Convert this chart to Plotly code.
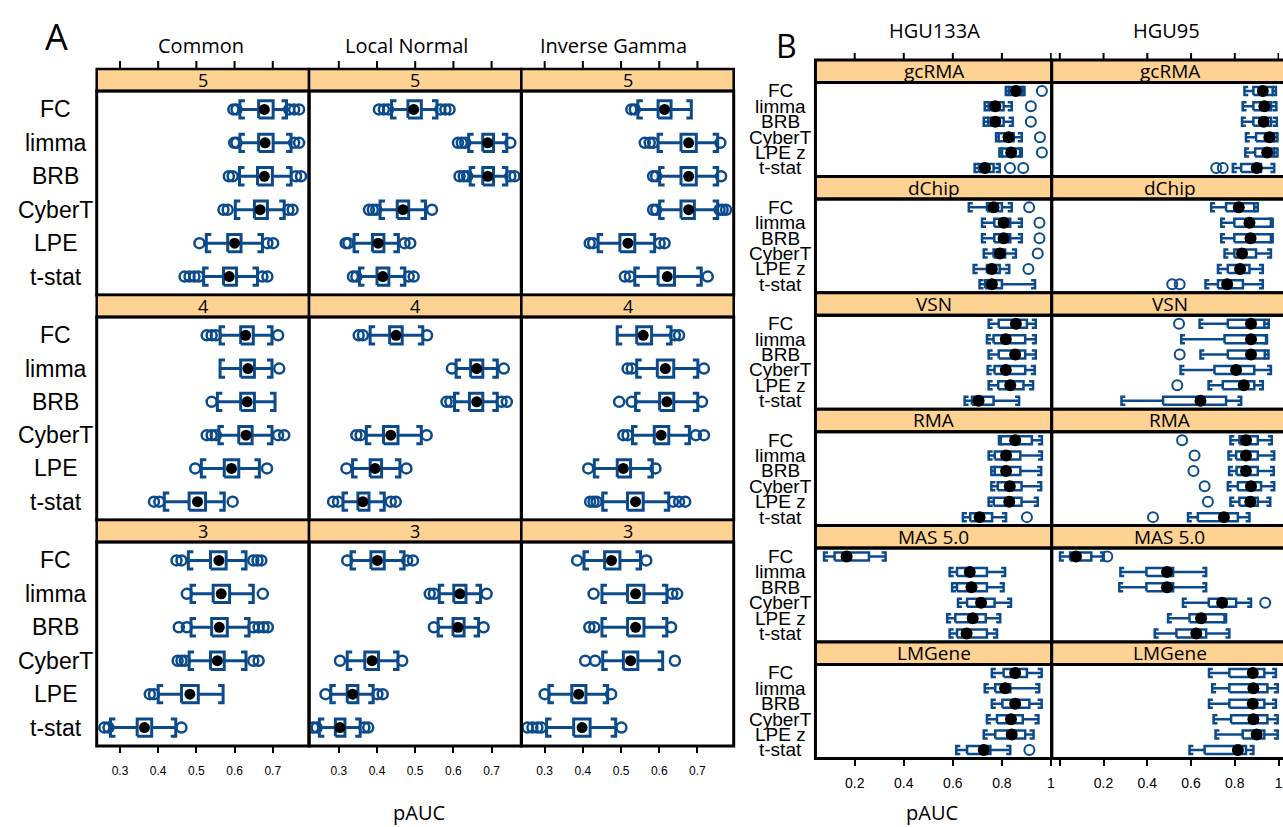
import plotly.graph_objects as go

W, H = 1283, 827
BLUE = "#0b4a8b"
STRIP = "#fdd292"
LABEL_FONT = "Liberation Sans"
HEAD_FONT = "Open Sans"

# ---------------- categories, panel names, tick labels ----------------
methods_a = ["FC", "limma", "BRB", "CyberT", "LPE", "t-stat"]
methods_b = ["FC", "limma", "BRB", "CyberT", "LPE z", "t-stat"]
priors = ["Common", "Local Normal", "Inverse Gamma"]
sample_sizes = ["5", "4", "3"]
platforms = ["HGU133A", "HGU95"]
preprocessing = ["gcRMA", "dChip", "VSN", "RMA", "MAS 5.0", "LMGene"]

ticks_a = [0.3, 0.4, 0.5, 0.6, 0.7]
tick_labels_a = ["0.3", "0.4", "0.5", "0.6", "0.7"]
ticks_b = [0.0, 0.2, 0.4, 0.6, 0.8, 1.0]
tick_labels_b1 = ["0", "0.2", "0.4", "0.6", "0.8", "1"]
tick_labels_b2 = ["", "0.2", "0.4", "0.6", "0.8", "1"]

# ---------------- box statistics ----------------
# each row: [lower whisker, Q1, median, Q3, upper whisker, [outliers]]

# A: simulation, prior model x replicates
common_5 = [
    [0.614, 0.663, 0.678, 0.701, 0.736, [0.597, 0.605, 0.743, 0.756, 0.769]],
    [0.614, 0.663, 0.680, 0.701, 0.748, [0.599, 0.605, 0.756, 0.769]],
    [0.613, 0.660, 0.678, 0.699, 0.748, [0.585, 0.595, 0.761, 0.774]],
    [0.602, 0.652, 0.667, 0.686, 0.730, [0.571, 0.582, 0.741, 0.752]],
    [0.526, 0.582, 0.600, 0.617, 0.673, [0.508, 0.686, 0.701]],
    [0.519, 0.571, 0.586, 0.605, 0.660, [0.469, 0.482, 0.495, 0.506, 0.673, 0.686]],
]
lnormal_5 = [
    [0.438, 0.481, 0.496, 0.516, 0.557, [0.405, 0.418, 0.429, 0.566, 0.579, 0.590]],
    [0.640, 0.677, 0.690, 0.705, 0.740, [0.612, 0.622, 0.631, 0.749]],
    [0.644, 0.677, 0.690, 0.705, 0.740, [0.616, 0.627, 0.636, 0.749, 0.760]],
    [0.408, 0.453, 0.468, 0.483, 0.527, [0.379, 0.389, 0.398, 0.544]],
    [0.340, 0.388, 0.403, 0.418, 0.456, [0.318, 0.325, 0.472, 0.487]],
    [0.354, 0.400, 0.415, 0.431, 0.473, [0.337, 0.346, 0.483, 0.496]],
]
igamma_5 = [
    [0.544, 0.597, 0.614, 0.631, 0.684, [0.527, 0.536]],
    [0.597, 0.657, 0.677, 0.697, 0.753, [0.562, 0.575, 0.584, 0.760]],
    [0.601, 0.657, 0.677, 0.697, 0.753, [0.584, 0.592, 0.762]],
    [0.601, 0.657, 0.677, 0.692, 0.753, [0.584, 0.592, 0.758, 0.766, 0.775]],
    [0.440, 0.497, 0.518, 0.536, 0.588, [0.418, 0.427, 0.601, 0.614]],
    [0.536, 0.597, 0.621, 0.640, 0.710, [0.510, 0.523, 0.727]],
]
common_4 = [
    [0.562, 0.616, 0.629, 0.649, 0.698, [0.527, 0.540, 0.551, 0.714]],
    [0.562, 0.616, 0.635, 0.652, 0.698, [0.717]],
    [0.555, 0.616, 0.633, 0.652, 0.706, [0.540]],
    [0.559, 0.611, 0.630, 0.646, 0.698, [0.527, 0.540, 0.551, 0.714, 0.730]],
    [0.513, 0.573, 0.592, 0.611, 0.665, [0.497, 0.685]],
    [0.416, 0.481, 0.503, 0.524, 0.573, [0.389, 0.403, 0.595]],
]
lnormal_4 = [
    [0.382, 0.433, 0.450, 0.466, 0.520, [0.352, 0.363, 0.531]],
    [0.607, 0.645, 0.661, 0.677, 0.715, [0.596, 0.732]],
    [0.603, 0.642, 0.661, 0.677, 0.715, [0.582, 0.592, 0.726, 0.740]],
    [0.372, 0.417, 0.436, 0.455, 0.516, [0.346, 0.357, 0.530]],
    [0.336, 0.382, 0.395, 0.412, 0.460, [0.320, 0.477]],
    [0.311, 0.350, 0.363, 0.379, 0.419, [0.285, 0.298, 0.436, 0.449]],
]
igamma_4 = [
    [0.490, 0.541, 0.558, 0.580, 0.631, [0.641, 0.652]],
    [0.541, 0.595, 0.616, 0.638, 0.701, [0.517, 0.528, 0.717]],
    [0.538, 0.601, 0.620, 0.638, 0.701, [0.495, 0.528, 0.712]],
    [0.530, 0.587, 0.605, 0.625, 0.679, [0.506, 0.517, 0.696, 0.717]],
    [0.430, 0.490, 0.506, 0.525, 0.582, [0.414, 0.590]],
    [0.452, 0.517, 0.538, 0.558, 0.625, [0.419, 0.428, 0.436, 0.636, 0.652, 0.668]],
]
common_3 = [
    [0.479, 0.537, 0.559, 0.578, 0.630, [0.448, 0.461, 0.649, 0.660, 0.670]],
    [0.486, 0.544, 0.565, 0.587, 0.649, [0.475, 0.674]],
    [0.486, 0.540, 0.560, 0.581, 0.638, [0.454, 0.475, 0.649, 0.663, 0.676, 0.687]],
    [0.481, 0.537, 0.555, 0.573, 0.630, [0.451, 0.461, 0.470, 0.649, 0.663]],
    [0.400, 0.461, 0.483, 0.505, 0.570, [0.378, 0.389]],
    [0.275, 0.345, 0.364, 0.383, 0.446, [0.259, 0.270, 0.461]],
]
lnormal_3 = [
    [0.332, 0.384, 0.401, 0.419, 0.471, [0.322, 0.479, 0.494]],
    [0.563, 0.601, 0.617, 0.633, 0.671, [0.538, 0.549, 0.687]],
    [0.560, 0.599, 0.612, 0.628, 0.666, [0.549, 0.679]],
    [0.322, 0.368, 0.387, 0.404, 0.455, [0.303, 0.466]],
    [0.279, 0.322, 0.336, 0.350, 0.390, [0.265, 0.401, 0.415]],
    [0.249, 0.291, 0.303, 0.316, 0.356, [0.233, 0.242, 0.367, 0.377]],
]
igamma_3 = [
    [0.403, 0.457, 0.475, 0.497, 0.551, [0.385, 0.566]],
    [0.450, 0.517, 0.538, 0.560, 0.620, [0.428, 0.634, 0.647]],
    [0.450, 0.517, 0.538, 0.560, 0.620, [0.417, 0.430, 0.631]],
    [0.452, 0.506, 0.525, 0.544, 0.609, [0.406, 0.432, 0.641]],
    [0.311, 0.371, 0.389, 0.408, 0.465, [0.300, 0.474]],
    [0.305, 0.376, 0.398, 0.419, 0.486, [0.255, 0.268, 0.281, 0.291, 0.501]],
]

# B: spike-in data, preprocessing x platform
hgu133a_gcrma = [
    [0.816, 0.828, 0.857, 0.884, 0.892, [0.963]],
    [0.730, 0.746, 0.773, 0.807, 0.840, [0.918]],
    [0.726, 0.744, 0.773, 0.807, 0.844, [0.918]],
    [0.776, 0.787, 0.827, 0.848, 0.881, [0.955]],
    [0.790, 0.800, 0.838, 0.874, 0.881, [0.963]],
    [0.689, 0.707, 0.731, 0.766, 0.791, [0.833, 0.887]],
]
hgu95_gcrma = [
    [0.844, 0.885, 0.928, 0.973, 0.988, []],
    [0.836, 0.885, 0.935, 0.966, 0.990, []],
    [0.833, 0.885, 0.932, 0.966, 0.992, []],
    [0.851, 0.897, 0.958, 0.980, 0.995, []],
    [0.848, 0.893, 0.948, 0.980, 0.995, []],
    [0.791, 0.829, 0.900, 0.920, 0.980, [0.715, 0.745]],
]
hgu133a_dchip = [
    [0.665, 0.739, 0.766, 0.800, 0.840, [0.911]],
    [0.719, 0.769, 0.807, 0.834, 0.881, [0.953]],
    [0.719, 0.769, 0.807, 0.834, 0.881, [0.953]],
    [0.726, 0.766, 0.792, 0.813, 0.857, [0.946]],
    [0.685, 0.739, 0.759, 0.791, 0.830, [0.908]],
    [0.709, 0.732, 0.759, 0.800, 0.935, []],
]
hgu95_dchip = [
    [0.692, 0.760, 0.818, 0.889, 0.905, []],
    [0.738, 0.798, 0.867, 0.965, 0.973, []],
    [0.738, 0.798, 0.872, 0.965, 0.973, []],
    [0.753, 0.798, 0.833, 0.897, 0.965, []],
    [0.723, 0.768, 0.824, 0.867, 0.928, []],
    [0.666, 0.723, 0.765, 0.837, 0.928, [0.514, 0.548]],
]
hgu133a_vsn = [
    [0.746, 0.787, 0.857, 0.902, 0.938, []],
    [0.739, 0.766, 0.816, 0.895, 0.938, []],
    [0.746, 0.787, 0.854, 0.895, 0.938, []],
    [0.742, 0.770, 0.816, 0.895, 0.934, []],
    [0.746, 0.785, 0.834, 0.888, 0.927, []],
    [0.648, 0.678, 0.705, 0.766, 0.870, []],
]
hgu95_vsn = [
    [0.639, 0.768, 0.874, 0.935, 0.955, [0.545]],
    [0.555, 0.753, 0.874, 0.943, 0.947, []],
    [0.643, 0.768, 0.874, 0.937, 0.954, [0.548]],
    [0.552, 0.707, 0.806, 0.889, 0.965, []],
    [0.680, 0.745, 0.841, 0.889, 0.928, [0.537]],
    [0.282, 0.472, 0.643, 0.760, 0.829, []],
]
hgu133a_rma = [
    [0.788, 0.795, 0.854, 0.922, 0.963, []],
    [0.746, 0.771, 0.817, 0.875, 0.963, []],
    [0.757, 0.771, 0.817, 0.875, 0.960, []],
    [0.757, 0.783, 0.832, 0.880, 0.960, []],
    [0.746, 0.767, 0.830, 0.880, 0.946, []],
    [0.641, 0.671, 0.709, 0.760, 0.817, [0.902]],
]
hgu95_rma = [
    [0.780, 0.821, 0.851, 0.905, 0.969, [0.559]],
    [0.771, 0.806, 0.851, 0.905, 0.980, [0.616]],
    [0.774, 0.808, 0.851, 0.905, 0.978, [0.611]],
    [0.768, 0.814, 0.874, 0.920, 0.980, [0.662]],
    [0.780, 0.821, 0.871, 0.905, 0.962, [0.677]],
    [0.586, 0.631, 0.750, 0.814, 0.867, [0.426]],
]
hgu133a_mas5 = [
    [0.075, 0.118, 0.167, 0.258, 0.326, []],
    [0.587, 0.617, 0.669, 0.739, 0.813, []],
    [0.597, 0.617, 0.676, 0.739, 0.807, []],
    [0.621, 0.658, 0.715, 0.770, 0.837, []],
    [0.577, 0.610, 0.681, 0.734, 0.793, []],
    [0.587, 0.617, 0.656, 0.739, 0.780, []],
]
hgu95_mas5 = [
    [0.001, 0.047, 0.074, 0.144, 0.201, [0.217]],
    [0.277, 0.396, 0.490, 0.518, 0.669, []],
    [0.272, 0.396, 0.490, 0.518, 0.669, []],
    [0.563, 0.681, 0.742, 0.806, 0.874, [0.939]],
    [0.495, 0.593, 0.646, 0.753, 0.760, []],
    [0.434, 0.533, 0.624, 0.669, 0.775, []],
]
hgu133a_lmgene = [
    [0.759, 0.807, 0.854, 0.902, 0.962, []],
    [0.730, 0.773, 0.813, 0.834, 0.952, []],
    [0.759, 0.802, 0.854, 0.912, 0.962, []],
    [0.739, 0.780, 0.837, 0.885, 0.949, []],
    [0.726, 0.773, 0.840, 0.895, 0.929, []],
    [0.614, 0.658, 0.726, 0.753, 0.834, [0.912]],
]
hgu95_lmgene = [
    [0.682, 0.775, 0.882, 0.935, 0.988, []],
    [0.697, 0.775, 0.885, 0.949, 0.996, []],
    [0.682, 0.775, 0.882, 0.935, 0.988, []],
    [0.703, 0.783, 0.885, 0.949, 0.996, []],
    [0.712, 0.836, 0.900, 0.935, 0.996, []],
    [0.593, 0.662, 0.814, 0.851, 0.885, []],
]

grid_a = [
    [common_5, lnormal_5, igamma_5],
    [common_4, lnormal_4, igamma_4],
    [common_3, lnormal_3, igamma_3],
]
grid_b = [
    [hgu133a_gcrma, hgu95_gcrma],
    [hgu133a_dchip, hgu95_dchip],
    [hgu133a_vsn, hgu95_vsn],
    [hgu133a_rma, hgu95_rma],
    [hgu133a_mas5, hgu95_mas5],
    [hgu133a_lmgene, hgu95_lmgene],
]

# ---------------- page geometry (pixels) ----------------
def fx(p):
    return p / W


def fy(p):
    return 1 - p / H


A_COLS = [(97, 310), (310, 523), (523, 736)]
A_XRANGE = [(0.239, 0.795), (0.222, 0.778), (0.239, 0.795)]
A_TOPS = [69, 295, 520]
A_BOTTOM = 746
A_STRIP = 22

B_COLS = [(818, 1055), (1055, 1292)]
B_XRANGE = [(0.040, 1.003), (-0.037, 1.002)]
B_TOP = 60
B_BLOCK = 116.4
B_STRIP = 22.5

YRANGE = [0.45, 6.55]
HALF = 0.26

fig = go.Figure()
shapes, annotations = [], []
layout_axes = {}


def add_panel(k, stats, xpx, xr, arm_px, lw, dot, ring, ring_w):
    x0, x1 = xpx
    arm = arm_px * (xr[1] - xr[0]) / (x1 - x0)
    n = len(stats)
    lx, ly, ox, oy, mx, my = [], [], [], [], [], []
    for i, (lo, q1, med, q3, hi, outs) in enumerate(stats):
        y = n - i
        # box
        lx += [q1, q3, q3, q1, q1, None]
        ly += [y - HALF, y - HALF, y + HALF, y + HALF, y - HALF, None]
        # whiskers
        lx += [lo, q1, None, q3, hi, None]
        ly += [y, y, None, y, y, None]
        # bracket-shaped whisker ends
        lx += [lo + arm, lo, lo, lo + arm, None, hi - arm, hi, hi, hi - arm, None]
        ly += [y + HALF, y + HALF, y - HALF, y - HALF, None,
               y + HALF, y + HALF, y - HALF, y - HALF, None]
        ox += outs
        oy += [y] * len(outs)
        mx.append(med)
        my.append(y)
    ax = dict(xaxis=f"x{k}", yaxis=f"y{k}", hoverinfo="skip", showlegend=False)
    fig.add_trace(go.Scatter(x=lx, y=ly, mode="lines",
                             line=dict(color=BLUE, width=lw), **ax))
    fig.add_trace(go.Scatter(x=ox, y=oy, mode="markers",
                             marker=dict(symbol="circle-open", size=ring, color=BLUE,
                                         line=dict(color=BLUE, width=ring_w)), **ax))
    fig.add_trace(go.Scatter(x=mx, y=my, mode="markers",
                             marker=dict(symbol="circle", size=dot, color="black",
                                         line=dict(width=0)), **ax))


k = 0
# ---------- A panels ----------
for r, row in enumerate(grid_a):
    for c, stats in enumerate(row):
        k += 1
        x0, x1 = A_COLS[c]
        stop = A_TOPS[r]
        ptop = stop + A_STRIP
        pbot = A_TOPS[r + 1] if r + 1 < len(A_TOPS) else A_BOTTOM
        add_panel(k, stats, (x0, x1), A_XRANGE[c], 5, 3, 11, 10, 2.5)
        bottom_row = r == len(grid_a) - 1
        layout_axes[f"xaxis{k}"] = dict(
            domain=[fx(x0), fx(x1)], range=list(A_XRANGE[c]), anchor=f"y{k}",
            showgrid=False, zeroline=False, showline=False,
            tickmode="array", tickvals=ticks_a, ticktext=tick_labels_a,
            ticks="outside" if bottom_row else "", ticklen=6, tickwidth=2,
            tickcolor="black", showticklabels=bottom_row, ticklabelstandoff=8,
            tickfont=dict(family=LABEL_FONT, size=12, color="black"),
        )
        layout_axes[f"yaxis{k}"] = dict(
            domain=[fy(pbot), fy(ptop)], range=YRANGE, anchor=f"x{k}",
            visible=False, fixedrange=True,
        )
        # strip
        shapes.append(dict(type="rect", xref="paper", yref="paper",
                           x0=fx(x0), x1=fx(x1), y0=fy(ptop), y1=fy(stop),
                           fillcolor=STRIP, line=dict(color="black", width=2.5),
                           layer="above"))
        annotations.append(dict(text=sample_sizes[r], xref="paper", yref="paper",
                                x=fx((x0 + x1) / 2), y=fy(stop + A_STRIP / 2),
                                showarrow=False, xanchor="center", yanchor="middle",
                                font=dict(family=HEAD_FONT, size=18, color="black")))
        # panel border
        shapes.append(dict(type="rect", xref="paper", yref="paper",
                           x0=fx(x0), x1=fx(x1), y0=fy(pbot), y1=fy(ptop),
                           line=dict(color="black", width=3), layer="above"))
        if r == 0:
            for t in ticks_a:
                shapes.append(dict(type="line", xref=f"x{k}", yref="paper",
                                   x0=t, x1=t, y0=fy(stop), y1=fy(stop - 8),
                                   line=dict(color="black", width=2)))
        if c == 0:
            for i, m in enumerate(methods_a):
                annotations.append(dict(text=m, xref="paper", yref=f"y{k}",
                                        x=fx(56), y=len(methods_a) - i,
                                        showarrow=False, xanchor="center",
                                        yanchor="middle",
                                        font=dict(family=LABEL_FONT, size=23,
                                                  color="black")))

# ---------- B panels ----------
nb = len(grid_b)
for r, row in enumerate(grid_b):
    for c, stats in enumerate(row):
        k += 1
        x0, x1 = B_COLS[c]
        stop = B_TOP + r * B_BLOCK
        ptop = stop + B_STRIP
        pbot = B_TOP + (r + 1) * B_BLOCK
        dom_x1 = min(x1, W)
        xr = B_XRANGE[c]
        add_panel(k, stats, (x0, x1), xr, 4, 2.5, 12, 10, 2)
        bottom_row = r == nb - 1
        layout_axes[f"xaxis{k}"] = dict(
            domain=[fx(x0), fx(dom_x1)], range=list(xr), anchor=f"y{k}",
            showgrid=False, zeroline=False, showline=False,
            tickmode="array", tickvals=ticks_b,
            ticktext=tick_labels_b1 if c == 0 else tick_labels_b2,
            ticks="outside" if bottom_row else "", ticklen=7, tickwidth=2,
            tickcolor="black", showticklabels=bottom_row, ticklabelstandoff=5,
            ticklabeloverflow="allow",
            tickfont=dict(family=LABEL_FONT, size=14, color="black"),
        )
        layout_axes[f"yaxis{k}"] = dict(
            domain=[fy(pbot), fy(ptop)], range=YRANGE, anchor=f"x{k}",
            visible=False, fixedrange=True,
        )
        shapes.append(dict(type="rect", xref="paper", yref="paper",
                           x0=fx(x0), x1=fx(x1), y0=fy(ptop), y1=fy(stop),
                           fillcolor=STRIP, line=dict(color="black", width=3),
                           layer="above"))
        annotations.append(dict(text=preprocessing[r], xref="paper", yref="paper",
                                x=fx((x0 + x1) / 2), y=fy(stop + B_STRIP / 2),
                                showarrow=False, xanchor="center", yanchor="middle",
                                font=dict(family=HEAD_FONT, size=19, color="black")))
        shapes.append(dict(type="rect", xref="paper", yref="paper",
                           x0=fx(x0), x1=fx(x1), y0=fy(pbot), y1=fy(ptop),
                           line=dict(color="black", width=3), layer="above"))
        if r == 0:
            for t in ticks_b:
                if xr[0] <= t <= xr[1]:
                    shapes.append(dict(type="line", xref=f"x{k}", yref="paper",
                                       x0=t, x1=t, y0=fy(stop), y1=fy(stop - 7),
                                       line=dict(color="black", width=2)))
        if c == 0:
            for i, m in enumerate(methods_b):
                annotations.append(dict(text=m, xref="paper", yref=f"y{k}",
                                        x=fx(783), y=len(methods_b) - i,
                                        showarrow=False, xanchor="center",
                                        yanchor="middle",
                                        font=dict(family=LABEL_FONT, size=19,
                                                  color="black")))

# ---------- headings and axis titles ----------
def text(t, x, y, size, family=HEAD_FONT):
    annotations.append(dict(text=t, xref="paper", yref="paper", x=fx(x), y=fy(y),
                            showarrow=False, xanchor="center", yanchor="middle",
                            font=dict(family=family, size=size, color="black")))


text("A", 57, 36, 36)
text("B", 789, 45, 32)
for name, xc in zip(priors, [202, 408, 615]):
    text(name, xc, 45, 20)
for name, xc in zip(platforms, [937, 1170]):
    text(name, xc, 30, 20)
text("pAUC", 420, 812, 20)
text("pAUC", 935, 812, 20)

fig.update_layout(
    width=W, height=H, autosize=False,
    margin=dict(l=0, r=0, t=0, b=0),
    paper_bgcolor="white", plot_bgcolor="white",
    showlegend=False, shapes=shapes, annotations=annotations,
    **layout_axes,
)

fig.write_html("out.html")
